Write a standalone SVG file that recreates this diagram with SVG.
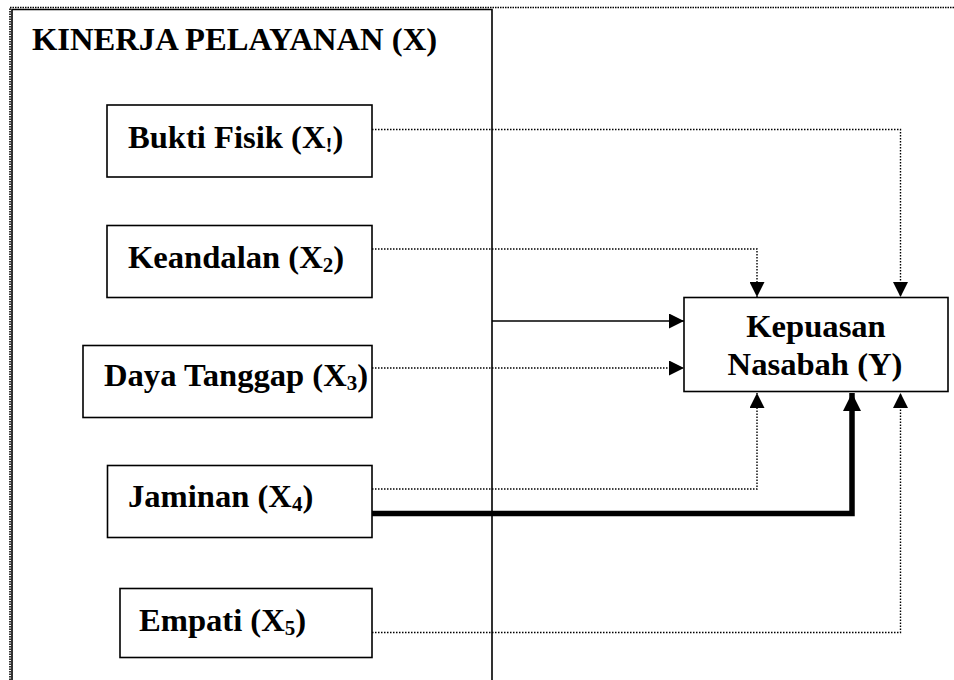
<svg xmlns="http://www.w3.org/2000/svg" width="954" height="680" viewBox="0 0 954 680">
<style>
.box{fill:#fff;stroke:#000;stroke-width:1.6}
.t{font-family:"Liberation Serif","Times New Roman",serif;font-weight:bold;font-size:31px;fill:#000}
.sub{font-size:20px}
.dot{fill:none;stroke:#000;stroke-width:1.4;stroke-dasharray:1.5 1.5}
.frame{fill:none;stroke:#000;stroke-width:1.6;stroke-dasharray:1.5 1}
.solid{fill:none;stroke:#000;stroke-width:1.6}
.thick{fill:none;stroke:#000;stroke-width:5.5}
</style>
<defs>
<marker id="ah" viewBox="0 0 15 15" refX="15" refY="7.5" markerWidth="15" markerHeight="15" markerUnits="userSpaceOnUse" orient="auto">
<path d="M0,0 L15,7.5 L0,15 z" fill="#000"/>
</marker>
<marker id="ahb" viewBox="0 0 18 18" refX="18" refY="9" markerWidth="18" markerHeight="18" markerUnits="userSpaceOnUse" orient="auto">
<path d="M0,0 L18,9 L0,18 z" fill="#000"/>
</marker>
</defs>
<rect width="954" height="680" fill="#fff"/>
<g id="frame">
<path class="frame" d="M954,7.5 H10 V680"/>
<path class="solid" d="M12,680 V9.5 H492 V680"/>
<text class="t" transform="translate(32,50) scale(1.052,1)">KINERJA PELAYANAN (X)</text>
</g>
<g id="connectors">
<path class="dot" d="M372,129.5 H900.5 V297" marker-end="url(#ah)"/>
<path class="dot" d="M372,249 H757 V297" marker-end="url(#ah)"/>
<path class="solid" d="M492,321 H684" marker-end="url(#ah)"/>
<path class="dot" d="M372,368 H684" marker-end="url(#ah)"/>
<path class="dot" d="M372,489 H757 V393" marker-end="url(#ah)"/>
<path class="thick" d="M372,513.5 H852 V393" marker-end="url(#ahb)"/>
<path class="dot" d="M372,632.5 H900.5 V393" marker-end="url(#ah)"/>
</g>
<g id="bukti-fisik">
<rect class="box" x="107" y="105" width="265" height="72"/>
<text class="t" transform="translate(128,148) scale(1.052,1)">Bukti Fisik (X<tspan class="sub" dy="4">!</tspan><tspan dy="-4">)</tspan></text>
</g>
<g id="keandalan">
<rect class="box" x="107" y="225.5" width="265" height="72"/>
<text class="t" transform="translate(128,268) scale(1.052,1)">Keandalan (X<tspan class="sub" dy="4">2</tspan><tspan dy="-4">)</tspan></text>
</g>
<g id="daya-tanggap">
<rect class="box" x="83" y="345.5" width="289" height="72"/>
<text class="t" transform="translate(104,386) scale(1.052,1)">Daya Tanggap (X<tspan class="sub" dy="4">3</tspan><tspan dy="-4">)</tspan></text>
</g>
<g id="jaminan">
<rect class="box" x="107.5" y="465.5" width="264.5" height="72"/>
<text class="t" transform="translate(128,507) scale(1.052,1)">Jaminan (X<tspan class="sub" dy="4">4</tspan><tspan dy="-4">)</tspan></text>
</g>
<g id="empati">
<rect class="box" x="120" y="588.5" width="252" height="69"/>
<text class="t" transform="translate(139,631) scale(1.052,1)">Empati (X<tspan class="sub" dy="4">5</tspan><tspan dy="-4">)</tspan></text>
</g>
<g id="kepuasan-nasabah">
<rect class="box" x="684" y="297.5" width="264" height="94"/>
<text class="t" transform="translate(816,337) scale(1.052,1)" text-anchor="middle">Kepuasan</text>
<text class="t" transform="translate(815,375) scale(1.052,1)" text-anchor="middle">Nasabah (Y)</text>
</g>
</svg>
